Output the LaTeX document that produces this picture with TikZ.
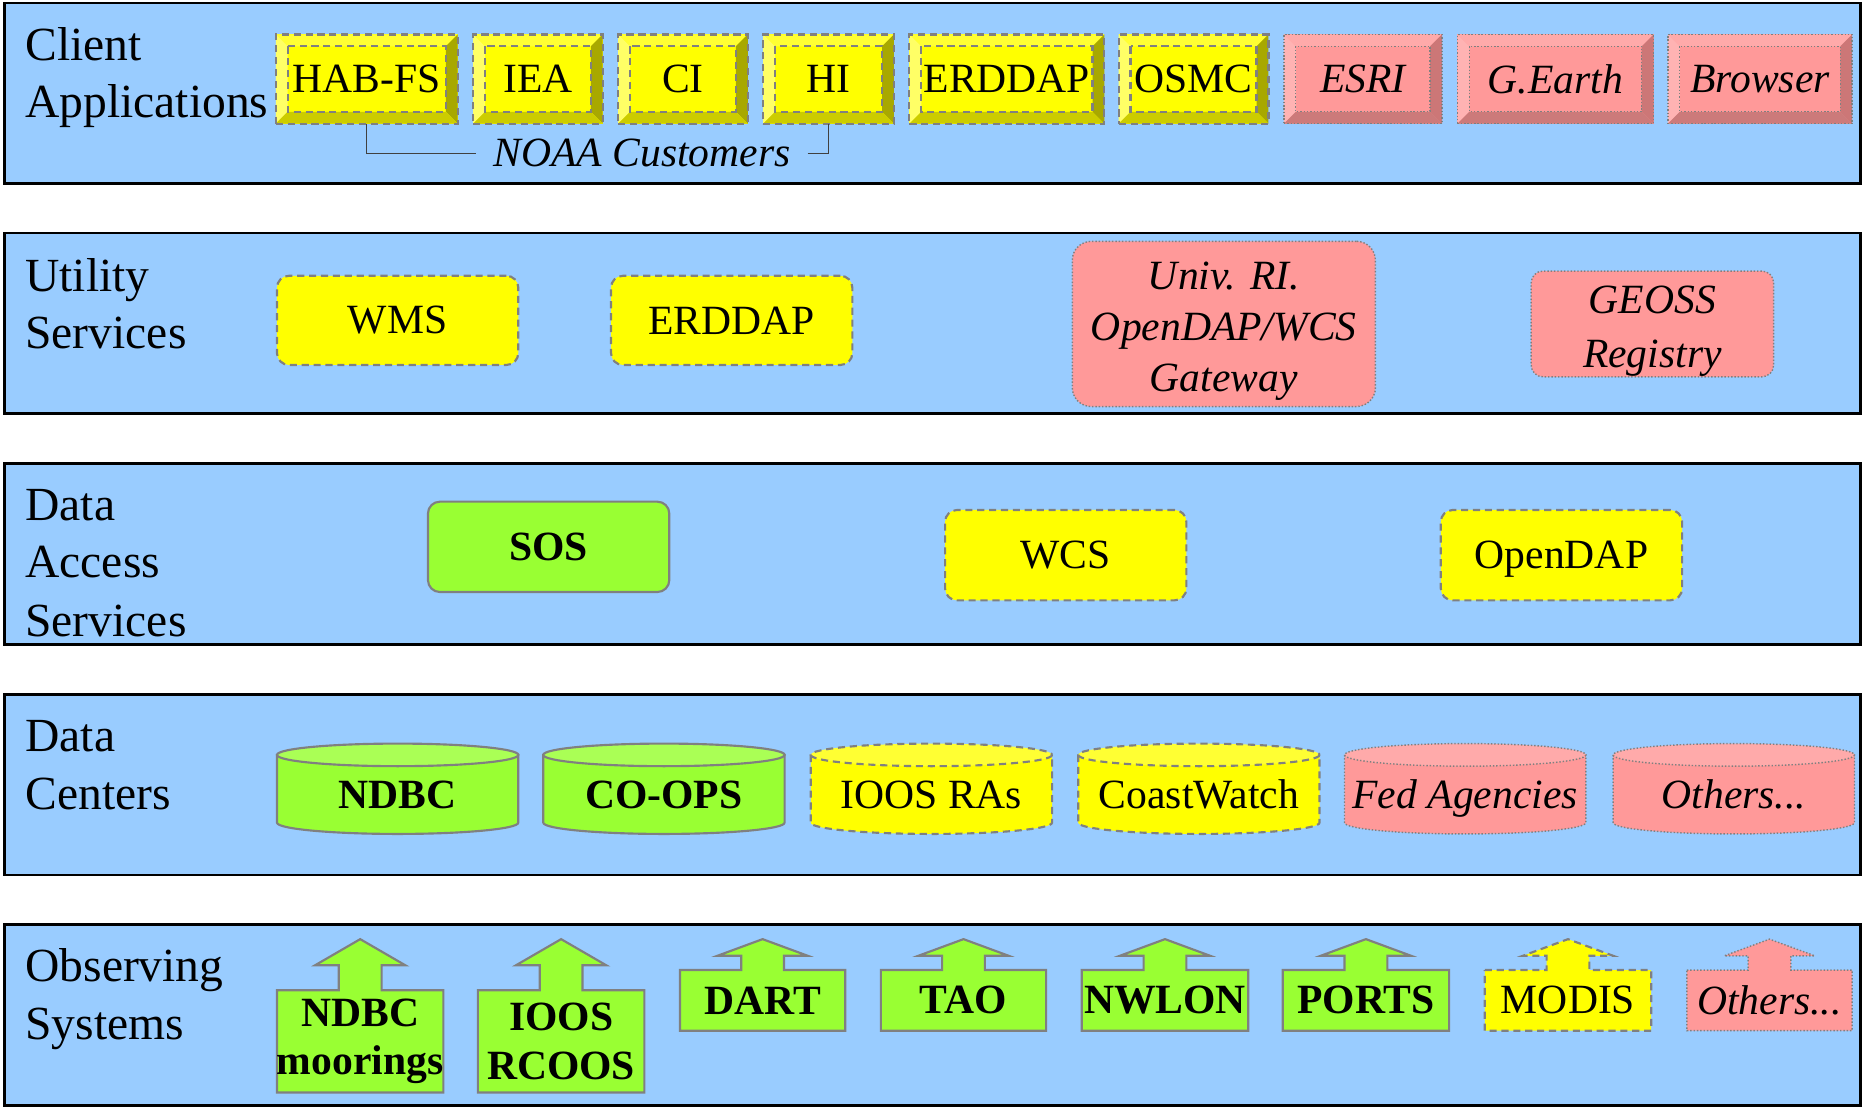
\documentclass[tikz,border=0pt]{standalone}
\usepackage{fontspec}
\setmainfont{Liberation Serif}
\usetikzlibrary{calc}
\definecolor{bandblue}{HTML}{99CCFF}
\definecolor{Ymain}{HTML}{FFFF00}
\definecolor{Ytop}{HTML}{FFFF33}
\definecolor{Yleft}{HTML}{FFFF66}
\definecolor{Yright}{HTML}{A8A800}
\definecolor{Ybot}{HTML}{CCCC00}
\definecolor{Pmain}{HTML}{FF9999}
\definecolor{Ptop}{HTML}{FFAAAA}
\definecolor{Pleft}{HTML}{FFB3B3}
\definecolor{Pright}{HTML}{CC7777}
\definecolor{Pbot}{HTML}{CC7A7A}
\definecolor{Gmain}{HTML}{99FF33}
\definecolor{Gtop}{HTML}{AAFF55}
\definecolor{bord}{HTML}{808080}
\newcommand\dgnfont{\fontsize{17.5}{20.5}\selectfont}
\newcommand\lblfont{\fontsize{20}{24}\selectfont}
\tikzset{
  band/.style={draw=black, line width=1.2pt, fill=bandblue},
  lbl/.style={font=\lblfont, anchor=base west, inner sep=0pt},
  Yline/.style={draw=bord, line width=0.9pt, dash pattern=on 3pt off 2pt},
  Pline/.style={draw=bord, line width=0.6pt, dash pattern=on 0.6pt off 0.8pt},
  Gline/.style={draw=bord, line width=0.9pt},
  Ytxt/.style={font=\dgnfont},
  Ptxt/.style={font=\dgnfont\itshape},
  Gtxt/.style={font=\dgnfont\bfseries},
  bracket/.style={draw=black!75, line width=0.6pt},
}
% bevelled button: name, x1, y1, x2, y2, kind, text
\newcommand\bevbtn[7]{%
  \fill[#6main] (#2,#3) rectangle (#4,#5);
  \fill[#6top] (#2,#3) -- (#4,#3) -- ({#4-10},{#3+10}) -- ({#2+10},{#3+10}) -- cycle;
  \fill[#6left] (#2,#3) -- ({#2+10},{#3+10}) -- ({#2+10},{#5-10}) -- (#2,#5) -- cycle;
  \fill[#6right] (#4,#3) -- (#4,#5) -- ({#4-10},{#5-10}) -- ({#4-10},{#3+10}) -- cycle;
  \fill[#6bot] (#2,#5) -- (#4,#5) -- ({#4-10},{#5-10}) -- ({#2+10},{#5-10}) -- cycle;
  \draw[#6line] ({#2+10},{#3+10}) rectangle ({#4-10},{#5-10});
  \node[#6line, #6txt, rectangle, inner sep=0pt, outer sep=0pt, text depth=0pt,
        minimum width={(#4-#2)*0.5pt}, minimum height={(#5-#3)*0.5pt}]
        (#1) at ({(#2+#4)/2},{(#3+#5)/2}) {#7};
}
% rounded box: [opts] name, x1, y1, x2, y2, kind, text
\newcommand\rbox[8][]{%
  \node[#7line, fill=#7main, #7txt, rectangle, rounded corners=5pt, align=center,
        inner sep=0pt, outer sep=0pt,
        minimum width={(#5-#3)*0.5pt}, minimum height={(#6-#4)*0.5pt}, #1]
        (#2) at ({(#3+#5)/2},{(#4+#6)/2}) {#8};
}
% cylinder: name, x1, x2, kind, text
\newcommand\cyl[5]{%
  \filldraw[#4line, fill=#4main] (#2,635) -- (#2,692)
     arc[start angle=180, end angle=0, x radius={(#3-#2)/2}, y radius=9.5] -- (#3,635) -- cycle;
  \filldraw[#4line, fill=#4top] ({(#2+#3)/2},635) ellipse[x radius={(#3-#2)/2}, y radius=9.5];
  \node[#4txt, anchor=base, inner sep=0pt] (#1) at ({(#2+#3)/2},680) {#5};
}
% observing box with up arrow: name, x1, x2, y1, y2, head base, kind, text
\newcommand\obs[8]{%
  \filldraw[#7line, fill=#7main] (#2,#4) -- ({(#2+#3)/2-18},#4) -- ({(#2+#3)/2-18},#6)
     -- ({(#2+#3)/2-38},#6) -- ({(#2+#3)/2},790) -- ({(#2+#3)/2+38},#6)
     -- ({(#2+#3)/2+18},#6) -- ({(#2+#3)/2+18},#4) -- (#3,#4) -- (#3,#5) -- (#2,#5) -- cycle;
  \node[#7txt, align=center, inner sep=0pt]
     (#1) at ({(#2+#3)/2},{(#4+#5)/2}) {#8};
}
\begin{document}
\begin{tikzpicture}[x=0.5pt, y=-0.5pt]
\useasboundingbox (0,0) rectangle (1568,932.6);
% bands
\draw[band] (4,2.5) rectangle (1565,154);
\draw[band] (4,196) rectangle (1565,348);
\draw[band] (4,390) rectangle (1565,542);
\draw[band] (4,584) rectangle (1565,736);
\draw[band] (4,778) rectangle (1565,930);
% labels
\node[lbl] (l1a) at (21,50.5) {Client};
\node[lbl] (l1b) at (21,98.5) {Applications};
\node[lbl] (l2a) at (21,245) {Utility};
\node[lbl] (l2b) at (21,293) {Services};
\node[lbl] (l3a) at (21,438) {Data};
\node[lbl] (l3b) at (21,486) {Access};
\node[lbl] (l3c) at (21,535) {Services};
\node[lbl] (l4a) at (21,632) {Data};
\node[lbl] (l4b) at (21,681) {Centers};
\node[lbl] (l5a) at (21,826) {Observing};
\node[lbl] (l5b) at (21,874) {Systems};
% client applications
\bevbtn{habfs}{232}{29}{385}{104}{Y}{HAB-FS}
\bevbtn{iea}{398}{29}{507}{104}{Y}{IEA}
\bevbtn{ci}{520}{29}{629}{104}{Y}{CI}
\bevbtn{hi}{642}{29}{752}{104}{Y}{HI}
\bevbtn{erddapA}{765}{29}{929}{104}{Y}{ERDDAP}
\bevbtn{osmc}{941}{29}{1067}{104}{Y}{OSMC}
\bevbtn{esri}{1080}{29}{1213}{104}{P}{ESRI}
\bevbtn{gearth}{1226}{29}{1391}{104}{P}{G.Earth}
\bevbtn{browser}{1403}{29}{1558}{104}{P}{Browser}
\node[Ptxt, inner xsep=7pt, inner ysep=0pt] (noaa) at (540,129) {NOAA Customers};
\draw[bracket] (habfs.south) |- (noaa.west);
\draw[bracket] (noaa.east) -| (hi.south);
% utility services
\rbox{wms}{233}{232}{436}{307}{Y}{WMS}
\rbox{erddapB}{514}{232}{717}{307}{Y}{ERDDAP}
\rbox[rounded corners=8pt]{univ}{902}{203}{1157}{342}{P}{\rule{0pt}{17.6pt}Univ. RI.\\[1pt]OpenDAP/WCS\\[1pt]Gateway}
\rbox{geoss}{1288}{228}{1492}{317}{P}{\rule{0pt}{17.6pt}GEOSS\\[2pt]Registry}
% data access services
\rbox{sos}{360}{422}{563}{498}{G}{SOS}
\rbox{wcs}{795}{429}{998}{505}{Y}{WCS}
\rbox[text depth=0pt]{opendap}{1212}{429}{1415}{505}{Y}{OpenDAP}
% data centers
\cyl{ndbc}{233}{436}{G}{NDBC}
\cyl{coops}{457}{660}{G}{CO-OPS}
\cyl{ioosras}{682}{885}{Y}{IOOS RAs}
\cyl{coast}{907}{1110}{Y}{CoastWatch}
\cyl{fed}{1131}{1334}{P}{Fed Agencies}
\cyl{othersA}{1357}{1560}{P}{Others...}
% observing systems
\obs{ndbcm}{233}{373}{833}{919}{812}{G}{NDBC\\moorings}
\obs{ioosr}{402}{542}{833}{919}{812}{G}{IOOS\\RCOOS}
\obs{dart}{572}{711}{816}{867}{804}{G}{DART}
\obs{tao}{741}{880}{816}{867}{804}{G}{TAO}
\obs{nwlon}{910}{1050}{816}{867}{804}{G}{NWLON}
\obs{ports}{1079}{1219}{816}{867}{804}{G}{PORTS}
\obs{modis}{1249}{1389}{816}{867}{804}{Y}{MODIS}
\obs{othersB}{1419}{1558}{816}{867}{804}{P}{Others...}
\end{tikzpicture}
\end{document}
